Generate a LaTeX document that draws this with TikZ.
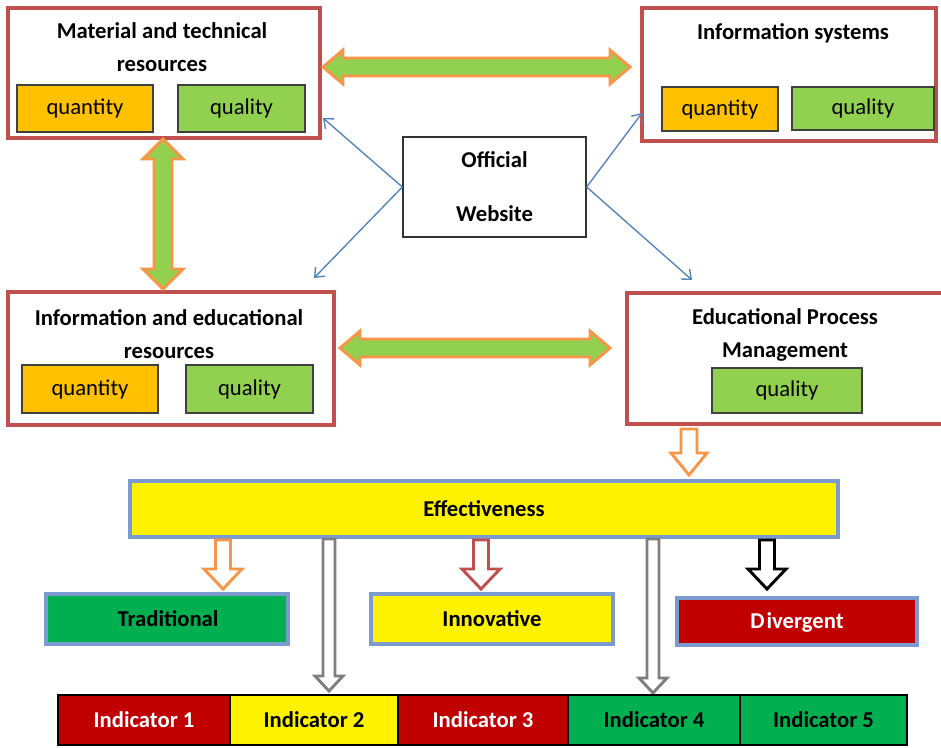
\documentclass[tikz,border=0pt]{standalone}
\usepackage{fontspec}
\setmainfont{Carlito}
\usetikzlibrary{fit,arrows.meta}
\definecolor{boxred}{HTML}{C0504D}
\definecolor{qorange}{HTML}{FFC000}
\definecolor{qgreen}{HTML}{92D050}
\definecolor{arrorange}{HTML}{F79646}
\definecolor{lblue}{HTML}{4F81BD}
\definecolor{effborder}{HTML}{7B9BD0}
\definecolor{dgreen}{HTML}{00B050}
\definecolor{dred}{HTML}{C00000}
\definecolor{garrow}{HTML}{7F7F7F}
\newcommand\hdblarrow[7]{% style, x1, x2, y, shaft half, head half, head length
  \draw[#1] (#2,#4) -- (#2+#7,#4-#6) -- (#2+#7,#4-#5) -- (#3-#7,#4-#5) -- (#3-#7,#4-#6)
    -- (#3,#4) -- (#3-#7,#4+#6) -- (#3-#7,#4+#5) -- (#2+#7,#4+#5) -- (#2+#7,#4+#6) -- cycle;}
\newcommand\vdblarrow[7]{% style, x, y1, y2, shaft half, head half, head length
  \draw[#1] (#2,#3) -- (#2+#6,#3+#7) -- (#2+#5,#3+#7) -- (#2+#5,#4-#7) -- (#2+#6,#4-#7)
    -- (#2,#4) -- (#2-#6,#4-#7) -- (#2-#5,#4-#7) -- (#2-#5,#3+#7) -- (#2-#6,#3+#7) -- cycle;}
\newcommand\downarrowshape[7]{% style, x, y1, y2, shaft half, head half, head length
  \draw[#1] (#2-#5,#3) -- (#2+#5,#3) -- (#2+#5,#4-#7) -- (#2+#6,#4-#7) -- (#2,#4)
    -- (#2-#6,#4-#7) -- (#2-#5,#4-#7) -- cycle;}
\begin{document}
\begin{tikzpicture}[x=0.75pt,y=-0.75pt,
  font=\fontsize{17}{20}\selectfont,
  bigbox/.style={draw=boxred, line width=2.3pt, fill=white, inner sep=0pt},
  qty/.style={draw=black!75, line width=1.1pt, fill=qorange, inner sep=0pt},
  qual/.style={draw=black!75, line width=1.1pt, fill=qgreen, inner sep=0pt},
  ttl/.style={font=\fontsize{17}{24.75}\selectfont\bfseries, align=center, inner sep=0pt},
  lbl/.style={font=\fontsize{17}{20}\selectfont\bfseries},
  effbox/.style={draw=effborder, line width=2.3pt, inner sep=0pt},
  cell/.style={draw=black, line width=1.1pt, inner sep=0pt},
  blueline/.style={draw=lblue, line width=1pt, -{Straight Barb[length=6pt,width=10pt]}},
  dblgreen/.style={draw=arrorange, fill=qgreen, line width=2.2pt, line join=miter},
  hollow/.style={fill=white, line width=2.2pt, line join=miter},
  thinhollow/.style={draw=garrow, fill=white, line width=2.2pt, line join=miter}
]
\useasboundingbox (0,0) rectangle (941,747);

% top-left box
\node[bigbox, fit={(8,8)(320,138)}] (A) {};
\node[ttl] (At) at (162,47) {Material and technical\\resources};
\node[qty, fit={(17,85)(153,132)}] (Aq) {};
\node at (Aq.center) (Aqt) {quantity};
\node[qual, fit={(178,85)(305,132)}] (Al) {};
\node at (Al.center) (Alt) {quality};

% top-right box
\node[bigbox, fit={(642,8)(936,141)}] (B) {};
\node[ttl] (Bt) at (793,33) {Information systems};
\node[qty, fit={(662,87)(778,131)}] (Bq) {};
\node at (Bq.center) (Bqt) {quantity};
\node[qual, fit={(792,87)(934,130)}] (Bl) {};
\node at (Bl.center) (Blt) {quality};

% official website
\node[draw=black!80, line width=1pt, fill=white, fit={(403,137)(586,237)}, inner sep=0pt] (W) {};
\node[font=\fontsize{17}{40.5}\selectfont\bfseries, align=center] (Wt) at (W.center) {Official\\Website};

% bottom-left box
\node[bigbox, fit={(8,292)(334,425)}] (C) {};
\node[ttl] (Ct) at (169,334) {Information and educational\\resources};
\node[qty, fit={(22,365)(158,413)}] (Cq) {};
\node at (Cq.center) (Cqt) {quantity};
\node[qual, fit={(186,365)(313,413)}] (Cl) {};
\node at (Cl.center) (Clt) {quality};

% bottom-right box
\node[bigbox, fit={(627,293)(945,424)}] (D) {};
\node[ttl] (Dt) at (785,335) {Educational Process\\Management};
\node[qual, fit={(712,368)(862,413)}] (Dl) {};
\node at (Dl.center) (Dlt) {quality};

% green double arrows
\hdblarrow{dblgreen}{323}{630}{67}{9}{17}{20}
\vdblarrow{dblgreen}{163}{139}{289}{9}{20}{20}
\hdblarrow{dblgreen}{340}{610}{348}{9}{17}{20}

% blue connectors
\coordinate (a1) at (323,118);
\coordinate (c1) at (314,278);
\coordinate (b1) at (642,113);
\coordinate (d1) at (692,280);
\draw[blueline] (W.west) -- (a1);
\draw[blueline] (W.west) -- (c1);
\draw[blueline] (W.east) -- (b1);
\draw[blueline] (W.east) -- (d1);

% arrow to effectiveness
\downarrowshape{hollow, draw=arrorange}{689}{429}{475}{8}{18}{22}

% effectiveness
\node[effbox, fill=yellow, fit={(130,481)(838,537)}] (E) {};
\node[lbl] (Et) at (E.center) {Effectiveness};

% gray thin arrows
\downarrowshape{thinhollow}{329}{539}{691}{6}{14}{15}
\downarrowshape{thinhollow}{653}{539}{693}{6}{14}{15}

% type arrows
\downarrowshape{hollow, draw=arrorange}{223}{540}{589}{7.5}{19}{20}
\downarrowshape{hollow, draw=boxred}{481}{540}{589}{7.5}{19}{20}
\downarrowshape{hollow, draw=black}{767}{540}{589}{7.5}{19}{20}

% types
\node[effbox, fill=dgreen, fit={(46,594)(288,644)}] (T) {};
\node[lbl] (Tt) at (168,619) {Traditional};
\node[effbox, fill=yellow, fit={(371,594)(613,644)}] (I) {};
\node[lbl] (It) at (I.center) {Innovative};
\node[effbox, fill=dred, fit={(677,598)(917,645)}] (V) {};
\node[lbl, text=white] (Vt) at (797,622) {D\kern1.5pt ivergent};

% indicators
\node[cell, fill=dred, fit={(58,695)(230,745)}] (I1) {};
\node[lbl, text=white] at (I1.center) (I1t) {Indicator 1};
\node[cell, fill=yellow, fit={(230,695)(398,745)}] (I2) {};
\node[lbl] at (I2.center) (I2t) {Indicator 2};
\node[cell, fill=dred, fit={(398,695)(568,745)}] (I3) {};
\node[lbl, text=white] at (I3.center) (I3t) {Indicator 3};
\node[cell, fill=dgreen, fit={(568,695)(740,745)}] (I4) {};
\node[lbl] at (I4.center) (I4t) {Indicator 4};
\node[cell, fill=dgreen, fit={(740,695)(907,745)}] (I5) {};
\node[lbl] at (I5.center) (I5t) {Indicator 5};
\end{tikzpicture}
\end{document}
